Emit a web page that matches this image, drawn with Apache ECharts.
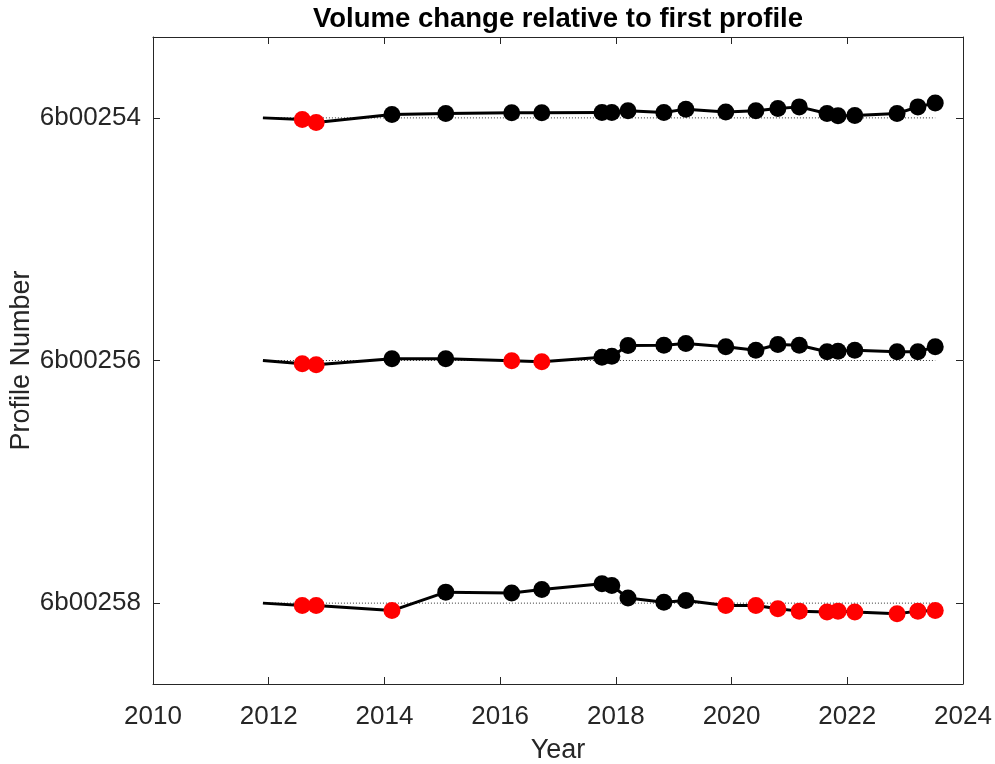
<!DOCTYPE html>
<html><head><meta charset="utf-8">
<script src="https://cdn.jsdelivr.net/npm/echarts@6/dist/echarts.min.js"></script>
<style>html,body{margin:0;padding:0;background:#fff}#c{width:995px;height:764px}</style>
</head><body><div id="c"></div>
<script>
const profiles = ['6b00254', '6b00256', '6b00258'];
const profilePos = [1, 4, 7];
const years = [2011.90, 2012.58, 2012.82, 2014.13, 2015.06, 2016.20, 2016.72, 2017.76, 2017.93, 2018.21, 2018.83,
  2019.21, 2019.90, 2020.42, 2020.80, 2021.17, 2021.65, 2021.84, 2022.13, 2022.86, 2023.22, 2023.52];
const change254 = [0, -0.019, -0.056, 0.042, 0.054, 0.062, 0.062, 0.067, 0.067, 0.087, 0.067,
  0.108, 0.074, 0.087, 0.116, 0.136, 0.054, 0.025, 0.030, 0.054, 0.136, 0.185];
const change256 = [0, -0.041, -0.053, 0.021, 0.021, -0.004, -0.016, 0.041, 0.053, 0.185, 0.189,
  0.210, 0.169, 0.127, 0.198, 0.189, 0.108, 0.115, 0.127, 0.108, 0.108, 0.169];
const change258 = [0, -0.030, -0.030, -0.092, 0.136, 0.124, 0.168, 0.239, 0.218, 0.062, 0.012,
  0.032, -0.030, -0.030, -0.070, -0.099, -0.111, -0.099, -0.111, -0.132, -0.099, -0.092];
const changes = [change254, change256, change258];
const xTicks = [2010, 2012, 2014, 2016, 2018, 2020, 2022, 2024];

const FONT = '"Liberation Sans", Arial, Helvetica, sans-serif';
const AX = '#262626';

const series = [];
profiles.forEach((p, k) => {
  const pos = profilePos[k];
  series.push({
    type: 'line', name: p + ' baseline', silent: true, symbol: 'none', z: 1,
    data: [[years[0], pos], [years[years.length - 1], pos]],
    lineStyle: { color: '#333', width: 1, type: [1, 2] }
  });
  series.push({
    type: 'line', name: p, z: 3,
    symbolSize: 17,
    lineStyle: { color: '#000', width: 3 },
    data: years.map((y, i) => ({
      value: [y, pos - changes[k][i]],
      symbol: i === 0 ? 'none' : 'circle',
      itemStyle: { color: changes[k][i] < 0 ? '#ff0000' : '#000000', borderWidth: 0 }
    }))
  });
});

const chart = echarts.init(document.getElementById('c'));
chart.setOption({
  backgroundColor: '#fff',
  animation: false,
  title: {
    text: 'Volume change relative to first profile',
    left: 553, top: 0, textAlign: 'center',
    textStyle: { fontFamily: FONT, fontSize: 27.5, fontWeight: 'bold', color: '#000' }
  },
  grid: { left: 153, right: 32, top: 37, bottom: 80, containLabel: false, outerBoundsMode: 'none' },
  xAxis: [{
    type: 'value', min: 2010, max: 2024, interval: 2, position: 'bottom',
    axisLine: { onZero: false, lineStyle: { color: AX, width: 1 } },
    axisTick: { inside: true, length: 7, lineStyle: { color: AX }, customValues: xTicks },
    axisLabel: { fontFamily: FONT, fontSize: 26, color: AX, margin: 20, customValues: xTicks,
      formatter: v => String(v) },
    splitLine: { show: false },
    name: 'Year', nameLocation: 'middle', nameGap: 53, nameMoveOverlap: false,
    nameTextStyle: { fontFamily: FONT, fontSize: 27, color: AX }
  }, {
    type: 'value', min: 2010, max: 2024, interval: 2, position: 'top',
    axisLine: { onZero: false, lineStyle: { color: AX, width: 1 } },
    axisTick: { inside: true, length: 7, lineStyle: { color: AX }, customValues: xTicks },
    axisLabel: { show: false }, splitLine: { show: false }
  }],
  yAxis: [{
    type: 'value', min: 0, max: 8, inverse: true, position: 'left',
    axisLine: { onZero: false, lineStyle: { color: AX, width: 1 } },
    axisTick: { inside: true, length: 7, lineStyle: { color: AX }, customValues: profilePos },
    axisLabel: {
      fontFamily: FONT, fontSize: 26, color: AX, margin: 12, customValues: profilePos,
      formatter: v => profiles[profilePos.indexOf(Math.round(v))] || ''
    },
    splitLine: { show: false },
    name: 'Profile Number', nameLocation: 'middle', nameGap: 118, nameRotate: 90, nameMoveOverlap: false,
    nameTextStyle: { fontFamily: FONT, fontSize: 27, color: AX }
  }, {
    type: 'value', min: 0, max: 8, inverse: true, position: 'right',
    axisLine: { onZero: false, lineStyle: { color: AX, width: 1 } },
    axisTick: { inside: true, length: 7, lineStyle: { color: AX }, customValues: profilePos },
    axisLabel: { show: false }, splitLine: { show: false }
  }],
  series: series
});
</script>
</body></html>
